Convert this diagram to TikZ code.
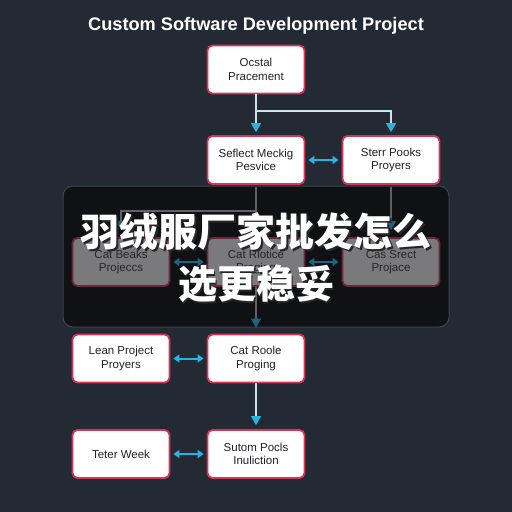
\documentclass[tikz,border=0pt]{standalone}
\usepackage{fontspec}
\setmainfont{Liberation Sans}
\newfontfamily\cjk{Noto Sans CJK SC}
\usetikzlibrary{arrows.meta,calc}
\definecolor{bgcol}{RGB}{35,42,52}
\definecolor{panelcol}{RGB}{15,17,20}
\definecolor{panelline}{RGB}{62,68,76}
\definecolor{boxred}{RGB}{214,52,88}
\definecolor{textdark}{RGB}{34,34,38}
\definecolor{arrowcyan}{RGB}{40,180,225}
\definecolor{linecol}{RGB}{205,228,236}
\definecolor{dimfill}{RGB}{122,122,124}
\definecolor{dimred}{RGB}{110,38,58}
\definecolor{dimtext}{RGB}{38,38,40}
\definecolor{dimteal}{RGB}{28,100,128}
\definecolor{dimline}{RGB}{92,98,104}
\tikzset{
  box/.style={draw=boxred, line width=1.8pt, fill=white, rounded corners=5pt,
    minimum width=97pt, minimum height=48pt, align=center, inner sep=2pt,
    font=\fontsize{11.5}{13.5}\selectfont, text=textdark},
  dimbox/.style={box, fill=dimfill, draw=dimred, text=dimtext},
  flow/.style={draw=linecol, line width=1.2pt, -{Triangle[width=10pt,length=9pt,color=arrowcyan]}},
  dimflow/.style={draw=dimline, line width=1.2pt, -{Triangle[width=10pt,length=9pt,color=dimteal]}},
  dbl/.style={draw=arrowcyan, line width=2pt, {Triangle[width=8pt,length=6pt]}-{Triangle[width=8pt,length=6pt]}, shorten <=3pt, shorten >=3pt},
  dimdbl/.style={dbl, draw=dimteal},
  cntext/.style={font=\cjk\bfseries\fontsize{39}{44}\selectfont, inner sep=0pt},
}
\begin{document}
\begin{tikzpicture}[x=1pt,y=-1pt]
\fill[bgcol] (0,0) rectangle (512,512);
\useasboundingbox (0,0) rectangle (512,512);

\node[font=\bfseries\fontsize{18.2}{20}\selectfont, text=white] (title) at (256,26) {Custom Software Development Project};

% top boxes
\node[box] (A) at (256,69.5) {Ocstal\\Pracement};
\node[box] (B) at (256,160) {Seflect Meckig\\Pesvice};
\node[box] (C) at (391,160) {Sterr Pooks\\Proyers};

\coordinate (j1) at (256,111);
\draw[flow, shorten >=3pt] (A.south) -- (B.north);
\draw[flow, shorten >=3pt] (j1) -| (C.north);
\draw[dbl] (B.east) -- (C.west);

% lower boxes
\node[box] (D) at (121,358.5) {Lean Project\\Proyers};
\node[box] (E) at (256,358.5) {Cat Roole\\Proging};
\node[box] (F) at (121,454) {Teter Week};
\node[box] (G) at (256,454) {Sutom Pocls\\Inuliction};

\draw[dbl] (D.east) -- (E.west);
\draw[flow, shorten >=4pt] (E.south) -- (G.north);
\draw[dbl] (F.east) -- (G.west);

% overlay panel
\draw[fill=panelcol, draw=panelline, line width=1pt, rounded corners=10pt] (63,186) rectangle (449,327);

\coordinate (j2) at (256,211);
\coordinate (t1) at (256,187);
\coordinate (t2) at (391,187);
\draw[dimflow, shorten >=6pt] (t1) -- (E.north);
\draw[dimflow, shorten >=8pt] (j2) -| (121,238);
\draw[dimflow, shorten >=8pt] (t2) -- (391,238);
\node[dimbox] (P) at (121,262) {Cat Beaks\\Projeccs};
\node[dimbox] (Q) at (256,262) {Cat Rlotice\\Praging};
\node[dimbox] (R) at (391,262) {Cas Srect\\Projace};
\draw[dimdbl] (P.east) -- (Q.west);
\draw[dimdbl] (Q.east) -- (R.west);

% overlay text with drop shadow
\node[cntext, text=black!85] (cn1s) at (257.8,233.8) {羽绒服厂家批发怎么};
\node[cntext, text=black!85] (cn2s) at (257.8,285.8) {选更稳妥};
\node[cntext, text=white] (cn1) at (256,232) {羽绒服厂家批发怎么};
\node[cntext, text=white] (cn2) at (256,284) {选更稳妥};
\end{tikzpicture}
\end{document}
